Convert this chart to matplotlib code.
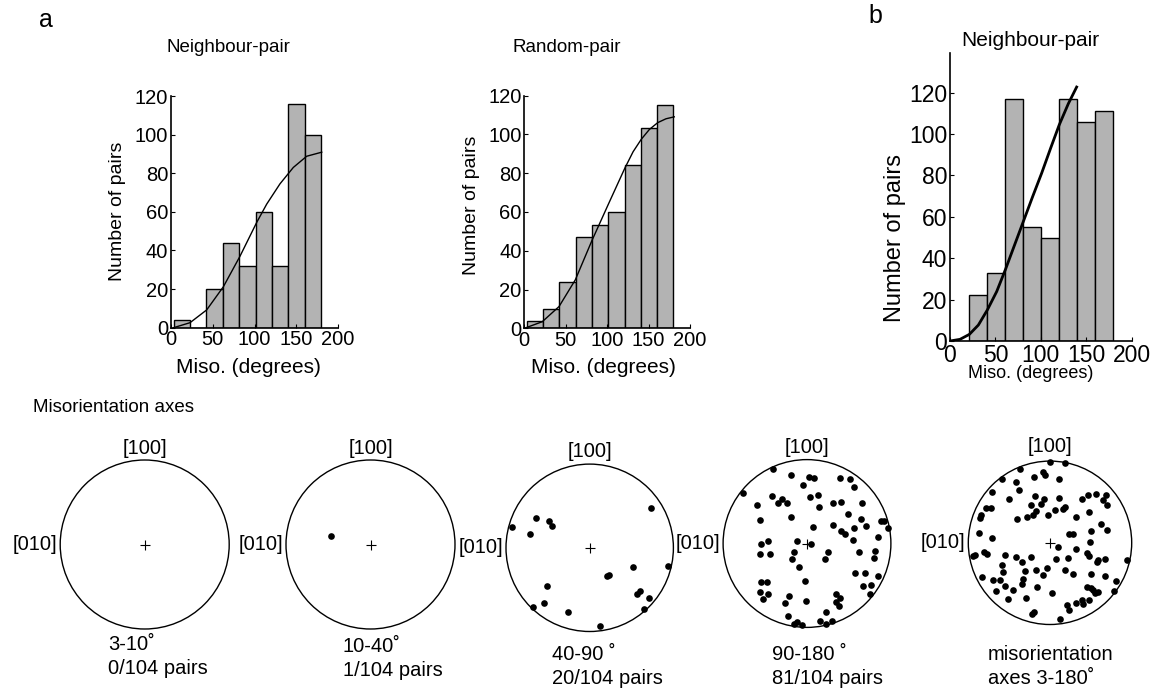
import matplotlib
matplotlib.use("Agg")
import matplotlib.pyplot as plt
from matplotlib.patches import Circle

plt.rcParams['font.family'] = ['Liberation Sans', 'DejaVu Sans']

# ---- histogram data (degrees / number of pairs) ----
a_edges = [3, 22.7, 42.3, 62, 81.7, 101.3, 121, 140.7, 160.3, 180]
nb_counts = [4, 0, 20, 44, 32, 60, 32, 116, 100]
rp_counts = [4, 10, 24, 47, 53, 60, 84, 103, 115]

nb_curve_x = [3, 6.8, 22.8, 42.7, 62.7, 82.6, 102.6, 114.6, 130.5, 146.5, 162.5, 180.5]
nb_curve_y = [0, 0.5, 2.6, 9.2, 21.2, 37, 54.5, 64, 74.5, 83, 88.8, 90.9]

rp_curve_x = [2, 21.7, 41.9, 61.6, 81.4, 101.5, 121.3, 131.3, 141.3, 151, 161, 171, 181]
rp_curve_y = [0.3, 3.4, 11.2, 25, 45, 64, 82.5, 91, 97.5, 102.5, 106, 108, 109]

b_edges = [21, 40.9, 60.7, 80.6, 100.4, 120.3, 140.1, 160, 179.8]
b_counts = [22, 33, 117, 55, 50, 117, 106, 111]
b_curve_x = [0, 11, 21.3, 31.2, 41.1, 51.4, 60.9, 70.4, 80.7, 91, 100.9, 110.8, 120.3, 130.3, 139.4]
b_curve_y = [0, 0.8, 3.2, 7.7, 15, 23.9, 34.4, 45.6, 57.7, 69.8, 81.1, 93.2, 104.5, 114.7, 122.7]

x_ticks = [0, 50, 100, 150, 200]
y_ticks = [0, 20, 40, 60, 80, 100, 120]

# ---- misorientation axes (unit circle projection) ----
dots_10_40 = [(-0.467, 0.104)]
dots_40_90 = [
    (0.733, 0.478), (-0.645, 0.359), (-0.482, 0.319), (-0.446, 0.255), (-0.928, 0.243),
    (-0.713, 0.167), (0.514, -0.231), (0.940, -0.223), (0.203, -0.331), (0.235, -0.327),
    (-0.506, -0.458), (0.602, -0.514), (0.566, -0.554), (0.709, -0.594), (-0.542, -0.657),
    (-0.681, -0.705), (0.649, -0.729), (-0.259, -0.765), (0.127, -0.936),
]
dots_90_180 = [
    (-0.411, 0.885), (-0.192, 0.813), (0.026, 0.794), (0.089, 0.782), (0.391, 0.782),
    (0.518, 0.770), (0.558, 0.675), (-0.046, 0.702), (-0.760, 0.599), (-0.423, 0.567),
    (-0.296, 0.536), (-0.351, 0.484), (-0.236, 0.484), (0.038, 0.560), (0.133, 0.583),
    (-0.597, 0.464), (0.145, 0.437), (0.315, 0.480), (0.403, 0.500), (0.661, 0.484),
    (0.486, 0.357), (-0.185, 0.317), (0.645, 0.294), (0.883, 0.274), (0.915, 0.266),
    (0.970, 0.179), (-0.562, 0.282), (0.073, 0.198), (0.304, 0.222), (0.407, 0.147),
    (0.454, 0.115), (0.565, 0.187), (0.704, 0.206), (0.847, 0.075), (0.554, 0.044),
    (-0.117, 0.024), (0.050, -0.004), (-0.462, 0.032), (-0.554, -0.004), (-0.565, -0.131),
    (-0.438, -0.123), (-0.153, -0.103), (-0.181, -0.187), (-0.097, -0.278), (0.252, -0.099),
    (0.220, -0.183), (0.625, -0.103), (0.815, -0.095), (0.800, -0.171), (0.573, -0.353),
    (0.688, -0.349), (0.843, -0.385), (-0.018, -0.444), (-0.554, -0.456), (-0.474, -0.456),
    (0.673, -0.504), (0.768, -0.500), (-0.558, -0.583), (-0.466, -0.607), (-0.522, -0.667),
    (0.343, -0.599), (0.399, -0.647), (-0.212, -0.631), (-0.264, -0.714), (-0.006, -0.683),
    (0.351, -0.702), (0.379, -0.742), (0.752, -0.607), (-0.232, -0.861), (0.224, -0.817),
    (-0.121, -0.940), (-0.153, -0.964), (-0.058, -0.972), (0.157, -0.921), (0.224, -0.956),
    (0.300, -0.921),
]
dots_3_180 = [
    (0.000, 0.992), (0.184, 0.980), (-0.367, 0.898), (-0.090, 0.865), (-0.061, 0.824),
    (-0.192, 0.804), (0.114, 0.784), (-0.584, 0.784), (-0.420, 0.739), (-0.380, 0.641),
    (-0.706, 0.620), (-0.506, 0.535), (-0.188, 0.576), (-0.073, 0.531), (-0.114, 0.469),
    (-0.237, 0.461), (0.114, 0.551), (0.388, 0.531), (0.461, 0.584), (0.559, 0.592),
    (0.686, 0.584), (0.645, 0.522), (0.694, 0.461), (-0.784, 0.429), (-0.727, 0.429),
    (-0.841, 0.339), (-0.857, 0.302), (-0.408, 0.294), (-0.286, 0.318), (-0.204, 0.339),
    (-0.171, 0.384), (-0.024, 0.339), (0.061, 0.400), (0.163, 0.408), (0.188, 0.441),
    (0.314, 0.314), (0.482, 0.376), (0.624, 0.233), (0.702, 0.151), (0.498, 0.147),
    (0.237, 0.110), (0.286, 0.110), (-0.865, 0.122), (-0.706, 0.061), (0.094, -0.049),
    (0.318, -0.082), (0.494, 0.008), (-0.808, -0.110), (-0.767, -0.131), (-0.947, -0.163),
    (-0.914, -0.155), (-0.551, -0.155), (-0.416, -0.176), (-0.347, -0.233), (-0.237, -0.176),
    (0.073, -0.196), (0.220, -0.180), (0.449, -0.122), (0.482, -0.163), (0.571, -0.237),
    (0.592, -0.216), (0.673, -0.200), (0.947, -0.216), (-0.592, -0.273), (-0.571, -0.359),
    (-0.310, -0.347), (-0.171, -0.331), (-0.090, -0.392), (-0.033, -0.306), (0.188, -0.331),
    (0.286, -0.388), (0.498, -0.380), (0.669, -0.408), (-0.829, -0.424), (-0.694, -0.457),
    (-0.612, -0.457), (-0.551, -0.527), (-0.327, -0.441), (-0.347, -0.502), (-0.457, -0.576),
    (-0.661, -0.584), (-0.155, -0.539), (0.024, -0.620), (0.457, -0.539), (0.502, -0.551),
    (0.531, -0.580), (0.551, -0.612), (0.592, -0.604), (0.808, -0.469), (0.788, -0.584),
    (-0.510, -0.694), (-0.290, -0.673), (0.204, -0.767), (0.237, -0.824), (0.318, -0.739),
    (0.388, -0.702), (0.400, -0.743), (0.473, -0.702), (-0.196, -0.849), (-0.220, -0.873),
    (0.127, -0.927),
]
pole_dots = [[], dots_10_40, dots_40_90, dots_90_180, dots_3_180]
range_labels = ['3-10˚', '10-40˚', '40-90 ˚', '90-180 ˚', 'misorientation']
count_labels = ['0/104 pairs', '1/104 pairs', '20/104 pairs', '81/104 pairs', 'axes 3-180˚']

W, H = 1151, 692
fig = plt.figure(figsize=(W / 100, H / 100), dpi=100)


def box(l, t, r, b):
    return [l / W, 1 - b / H, (r - l) / W, (b - t) / H]


def ftext(x, y, s, **kw):
    fig.text(x / W, 1 - y / H, s, **kw)


def hist_axes(rect, edges, counts, cx, cy, ymax, lw_curve, tick_fs):
    ax = fig.add_axes(rect)
    widths = [edges[i + 1] - edges[i] for i in range(len(counts))]
    ax.bar(edges[:-1], counts, width=widths, align='edge', color='#b3b3b3',
           edgecolor='black', linewidth=1.0)
    ax.plot(cx, cy, color='black', lw=lw_curve)
    ax.set_xlim(0, 200)
    ax.set_ylim(0, ymax)
    ax.set_xticks(x_ticks)
    ax.set_yticks(y_ticks)
    ax.spines['top'].set_visible(False)
    ax.spines['right'].set_visible(False)
    ax.spines['left'].set_linewidth(1.2)
    ax.spines['bottom'].set_linewidth(1.2)
    ax.tick_params(direction='in', length=3, labelsize=tick_fs, pad=2)
    return ax


hist_axes(box(171, 96, 338, 327.7), a_edges, nb_counts, nb_curve_x, nb_curve_y, 120, 1.0, 14.5)
hist_axes(box(524.3, 95.5, 690, 328.3), a_edges, rp_counts, rp_curve_x, rp_curve_y, 120, 1.0, 14.5)
hist_axes(box(950, 53.3, 1131.7, 341), b_edges, b_counts, b_curve_x, b_curve_y, 139, 2.0, 16.5)

ftext(46, 20, 'a', fontsize=18, ha='center', va='center')
ftext(875, 16, 'b', fontsize=18, ha='center', va='center')

ftext(228, 47, 'Neighbour-pair', fontsize=13.5, ha='center', va='center')
ftext(567, 47, 'Random-pair', fontsize=13.5, ha='center', va='center')
ftext(1030, 41, 'Neighbour-pair', fontsize=15, ha='center', va='center')

ftext(117, 211, 'Number of pairs', fontsize=14, rotation=90, ha='center', va='center')
ftext(472, 205, 'Number of pairs', fontsize=14, rotation=90, ha='center', va='center')
ftext(895, 238, 'Number of pairs', fontsize=17, rotation=90, ha='center', va='center')

ftext(248, 368, 'Miso. (degrees)', fontsize=15, ha='center', va='center')
ftext(603, 368, 'Miso. (degrees)', fontsize=15, ha='center', va='center')
ftext(1031, 374, 'Miso. (degrees)', fontsize=13, ha='center', va='center')

ftext(33, 407, 'Misorientation axes', fontsize=13.5, ha='left', va='center')

# circles: centre x, centre y, radius (pixels), text offsets
circles = [
    (144.7, 544.5, 84.5, -36.7, 100.5),
    (370.5, 544.5, 84.5, -27.5, 102.5),
    (589.7, 547.8, 83.7, -38.0, 107.0),
    (807.0, 543.5, 83.9, -35.3, 111.5),
    (1050.0, 542.8, 81.7, -62.0, 112.0),
]

for (cxp, cyp, r, dx, dy), dots, l1, l2 in zip(circles, pole_dots, range_labels, count_labels):
    ax = fig.add_axes(box(cxp - r, cyp - r, cxp + r, cyp + r))
    ax.set_xlim(-1, 1)
    ax.set_ylim(-1, 1)
    ax.axis('off')
    ax.add_patch(Circle((0, 0), 1, fill=False, lw=1.0, ec='black', clip_on=False))
    ax.plot([0], [0], '+', color='black', ms=7, mew=0.8, clip_on=False)
    if dots:
        xs = [p[0] for p in dots]
        ys = [p[1] for p in dots]
        ax.plot(xs, ys, 'o', color='black', ms=4.8, mec='none', clip_on=False)
    ax.text(0, 96 / r, '[100]', fontsize=14.5, ha='center', va='center')
    ax.text(-(r + 3) / r, 0, '[010]', fontsize=14.5, ha='right', va='center')
    ax.text(dx / r, -dy / r, l1, fontsize=14.5, ha='left', va='center')
    ax.text(dx / r, -(dy + 24) / r, l2, fontsize=14.5, ha='left', va='center')

fig.savefig('out.png', dpi=100)
